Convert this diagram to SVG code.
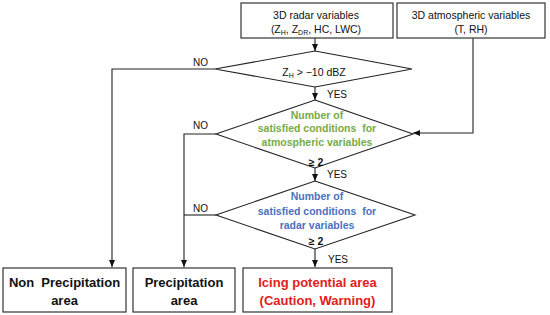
<svg xmlns="http://www.w3.org/2000/svg" width="550" height="315" viewBox="0 0 550 315">
<style>
.box{fill:#fff;stroke:#333;stroke-width:1.2}
.dia{fill:#fff;stroke:#222;stroke-width:1.1}
.ln{fill:none;stroke:#222;stroke-width:1.1}
.t{font-family:"Liberation Sans",Arial,sans-serif;font-size:10.5px;fill:#111;text-anchor:middle}
.lab{font-family:"Liberation Sans",Arial,sans-serif;font-size:10px;fill:#111}
.g{font-family:"Liberation Sans",Arial,sans-serif;font-size:10.5px;font-weight:bold;fill:#77ab48;text-anchor:middle}
.b{font-family:"Liberation Sans",Arial,sans-serif;font-size:10.5px;font-weight:bold;fill:#4a72c0;text-anchor:middle}
.k{font-family:"Liberation Sans",Arial,sans-serif;font-size:10.5px;font-weight:bold;fill:#111;text-anchor:middle}
.big{font-family:"Liberation Sans",Arial,sans-serif;font-size:13px;font-weight:bold;fill:#111;text-anchor:middle}
.red{font-family:"Liberation Sans",Arial,sans-serif;font-size:13px;font-weight:bold;fill:#e0201c;text-anchor:middle}
</style>
<defs>
<marker id="ah" markerWidth="8" markerHeight="8" refX="7" refY="4" orient="auto" markerUnits="userSpaceOnUse">
<path d="M0,1 L7,4 L0,7 Z" fill="#111"/>
</marker>
</defs>
<g id="connectors">
<line class="ln" x1="315" y1="38" x2="315" y2="51" marker-end="url(#ah)"/>
<line class="ln" x1="315" y1="87" x2="315" y2="100" marker-end="url(#ah)"/>
<line class="ln" x1="315" y1="168" x2="315" y2="181" marker-end="url(#ah)"/>
<line class="ln" x1="315" y1="249" x2="315" y2="267" marker-end="url(#ah)"/>
<polyline class="ln" points="473,38 473,133 413,133" marker-end="url(#ah)"/>
<polyline class="ln" points="215,69 112,69 112,267" marker-end="url(#ah)"/>
<polyline class="ln" points="216,134 184,134 184,267" marker-end="url(#ah)"/>
<line class="ln" x1="216" y1="215" x2="184" y2="215"/>
<text class="lab" x="193" y="66">NO</text>
<text class="lab" x="193" y="129">NO</text>
<text class="lab" x="193" y="212">NO</text>
<text class="lab" x="327" y="98">YES</text>
<text class="lab" x="327" y="178">YES</text>
<text class="lab" x="328" y="263">YES</text>
</g>
<g id="radar-vars">
<rect class="box" x="241" y="3" width="152" height="35"/>
<text class="t" x="316" y="19">3D radar variables</text>
<text class="t" x="316" y="33">(Z<tspan font-size="7" dy="2">H</tspan><tspan dy="-2">, Z</tspan><tspan font-size="7" dy="2">DR</tspan><tspan dy="-2">, HC, LWC)</tspan></text>
</g>
<g id="atmos-vars">
<rect class="box" x="397" y="3" width="148" height="35"/>
<text class="t" x="471" y="19">3D atmospheric variables</text>
<text class="t" x="471" y="33">(T, RH)</text>
</g>
<g id="dec-zh">
<polygon class="dia" points="315,51 412,69 315,87 215,69"/>
<text class="t" x="314" y="76">Z<tspan font-size="7" dy="2">H</tspan><tspan dy="-2"> &gt; −10 dBZ</tspan></text>
</g>
<g id="dec-atmos">
<polygon class="dia" points="315,100 413,134 315,168 216,134"/>
<text class="g" x="317" y="119">Number of</text>
<text class="g" x="317" y="132">satisfied conditions&#160; for</text>
<text class="g" x="317" y="146">atmospheric variables</text>
<text class="k" x="316" y="166">≥ 2</text>
</g>
<g id="dec-radar">
<polygon class="dia" points="315,181 415,215 315,249 216,215"/>
<text class="b" x="317" y="200">Number of</text>
<text class="b" x="317" y="215">satisfied conditions&#160; for</text>
<text class="b" x="317" y="229">radar variables</text>
<text class="k" x="316" y="245">≥ 2</text>
</g>
<g id="non-precip">
<rect class="box" x="3" y="268" width="123" height="44"/>
<text class="big" x="64.5" y="287">Non&#160; Precipitation</text>
<text class="big" x="64.5" y="305">area</text>
</g>
<g id="precip">
<rect class="box" x="133" y="268" width="102" height="44"/>
<text class="big" x="184" y="287">Precipitation</text>
<text class="big" x="184" y="305">area</text>
</g>
<g id="icing">
<rect class="box" x="243" y="268" width="149" height="44"/>
<text class="red" x="317.5" y="287">Icing potential area</text>
<text class="red" x="317.5" y="305">(Caution, Warning)</text>
</g>
</svg>
